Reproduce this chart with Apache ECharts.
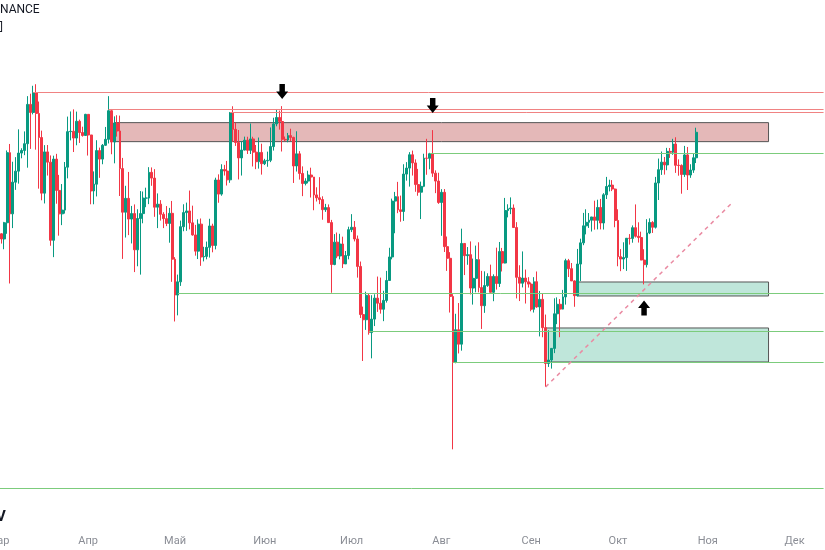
<!DOCTYPE html>
<html>
<head>
<meta charset="utf-8">
<script src="https://cdn.jsdelivr.net/npm/echarts@6/dist/echarts.min.js"></script>
<style>
html,body{margin:0;padding:0;background:#fff;}
#chart{width:825px;height:550px;}
</style>
</head>
<body>
<div id="chart"></div>
<script>
// Daily candles (prices in thousands USD), 2024-03-01 .. 2024-10-28
const startDate = '2024-03-01';
const totalDays = 286; // category slots up to 2024-12-11
const monthNames = ['Янв','Фев','Мар','Апр','Май','Июн','Июл','Авг','Сен','Окт','Ноя','Дек'];

const open = [
// Mar
61.13,62.39,62.03,63.17,68.33,63.80,66.11,66.93,68.30,68.50,69.02,72.13,71.48,73.08,71.40,69.50,65.30,68.39,67.61,61.94,67.84,65.50,63.80,64.07,67.23,69.96,69.99,69.46,70.78,69.89,69.66,
// Apr
71.33,69.70,65.46,65.96,68.49,67.84,68.90,69.36,71.62,69.15,70.64,70.01,67.12,63.92,64.92,63.43,63.82,61.28,63.47,63.82,64.94,64.94,66.84,66.41,64.28,64.50,63.77,63.46,63.12,63.84,
// May
60.64,58.25,59.12,62.89,63.89,64.01,63.16,62.31,61.19,63.07,60.79,60.83,61.45,62.94,61.58,66.27,65.23,67.05,66.94,66.28,71.45,70.14,69.12,67.93,68.53,69.29,68.51,69.39,68.37,67.64,68.35,
// Jun
67.49,67.71,67.75,68.80,70.57,71.08,70.76,69.36,69.31,69.65,69.51,67.32,68.24,66.76,66.01,66.19,66.64,66.49,65.17,64.96,64.83,64.10,64.25,63.18,60.28,61.81,60.86,61.68,60.32,60.89,
// Jul
62.68,62.85,62.03,60.15,56.99,56.66,58.23,55.85,56.70,58.05,57.72,57.33,57.90,59.21,60.79,64.72,65.04,64.09,63.97,66.71,67.16,68.17,67.55,65.93,65.37,65.80,67.91,67.90,68.25,66.78,66.19,
// Aug
64.62,65.36,61.50,60.70,58.16,54.02,56.03,55.13,61.72,60.88,60.95,58.71,59.35,60.61,58.74,57.56,58.87,59.48,58.43,59.48,59.01,61.16,60.38,64.04,64.16,64.22,62.83,59.42,59.03,59.37,59.12,
// Sep
58.97,57.33,59.13,57.48,57.97,56.16,53.95,54.16,54.87,57.04,57.65,57.34,58.13,60.54,60.00,59.18,58.21,60.31,61.76,62.95,63.20,63.35,63.58,63.34,64.26,63.15,65.18,65.79,65.89,65.60,
// Oct
63.33,60.81,60.65,60.75,62.08,62.07,62.82,62.22,62.13,60.58,60.27,62.45,63.19,62.85,66.05,67.04,67.61,67.40,68.43,68.36,69.00,67.37,67.36,66.68,68.16,66.64,67.01,67.94
];
const high = [
63.11,62.43,63.23,68.50,69.00,67.64,67.99,70.14,68.67,69.98,72.80,73.00,73.65,73.78,72.36,70.04,68.91,68.92,68.12,68.10,68.24,66.65,65.97,67.62,71.15,71.56,71.73,71.55,70.91,70.35,71.37,
71.34,69.71,66.91,69.29,68.72,69.00,70.33,72.80,71.76,71.17,71.26,71.23,67.93,65.84,66.87,64.37,64.48,64.13,65.45,65.42,65.70,67.23,67.21,67.08,65.28,64.79,63.92,64.36,64.23,64.73,
60.78,59.60,63.32,64.49,64.61,65.49,64.39,63.02,63.41,63.47,61.49,61.85,63.45,63.10,66.44,66.69,67.45,67.40,67.70,71.52,71.98,70.67,70.09,69.22,69.57,69.56,70.60,69.56,68.92,69.50,69.02,
67.86,68.41,70.29,71.06,71.76,71.63,71.99,69.58,69.86,70.19,69.56,69.99,68.45,67.29,66.40,66.96,67.19,66.49,65.73,66.48,65.07,64.52,64.48,63.37,62.37,62.48,62.39,62.19,61.20,62.89,
63.78,63.29,62.27,60.48,57.50,58.47,58.38,58.24,58.30,59.47,59.40,58.53,59.85,61.42,64.90,65.39,66.13,65.12,67.45,67.61,68.37,68.49,67.82,67.10,66.15,68.25,69.40,68.32,70.08,66.99,66.81,
65.59,65.60,62.20,61.12,58.31,57.04,57.73,62.75,61.75,61.47,61.86,60.68,61.57,61.80,59.85,59.82,59.69,60.27,59.62,61.43,61.82,61.41,64.95,64.49,64.99,64.48,63.21,60.23,61.17,59.94,59.43,
59.08,59.43,59.81,58.52,58.33,56.99,56.00,54.85,58.04,58.10,57.99,58.59,60.67,60.66,60.38,59.22,61.34,62.05,63.87,64.13,63.86,63.55,64.75,64.82,64.88,65.30,66.50,66.29,66.26,65.64,
64.13,61.33,61.80,61.48,62.37,62.98,64.48,63.20,62.54,61.32,63.42,63.48,63.28,66.50,67.88,68.42,68.00,68.70,68.69,69.40,69.52,67.82,67.44,68.85,68.77,67.45,68.26,70.27
];
const low = [
60.79,61.71,61.32,62.39,59.01,62.79,65.54,66.00,67.90,68.14,67.19,68.62,71.33,68.56,65.63,64.78,64.55,66.60,61.56,60.78,64.53,62.26,63.00,63.82,66.39,69.28,68.38,68.90,69.08,69.57,69.63,
68.11,64.49,64.49,65.06,66.43,67.45,68.85,69.04,68.21,67.52,69.57,65.09,60.66,62.13,62.30,61.72,59.77,60.16,59.60,63.13,64.28,64.50,65.84,63.59,62.79,63.32,62.79,62.93,61.77,59.12,
56.55,56.94,58.85,62.57,62.60,62.70,62.26,60.88,60.65,60.19,60.49,60.63,60.75,61.11,61.31,64.60,65.11,66.60,65.86,66.06,69.16,68.85,66.31,66.60,68.51,68.23,68.23,67.28,67.08,67.12,66.67,
67.39,67.26,67.61,68.49,70.38,70.12,68.42,69.21,69.13,69.23,66.05,66.90,66.30,65.08,65.87,66.02,64.98,64.06,64.69,64.50,63.38,63.94,63.18,58.40,60.23,60.71,60.63,60.04,60.32,60.63,
62.51,61.86,59.40,56.77,54.10,56.02,55.72,54.26,56.26,57.16,57.05,56.57,57.76,59.21,60.63,62.43,63.85,63.24,63.30,66.22,65.78,66.60,65.40,65.11,63.43,65.74,66.66,67.07,66.50,65.30,64.52,
62.25,61.13,59.85,57.12,49.00,53.96,54.56,54.73,59.57,60.26,58.29,57.63,58.43,58.43,56.08,57.10,58.79,58.42,57.85,58.61,58.78,59.81,60.35,63.55,63.78,62.80,58.03,57.86,58.75,57.70,58.74,
57.20,57.12,57.42,55.61,55.56,52.55,53.74,53.64,54.58,56.38,55.56,57.32,57.63,59.44,59.43,57.49,58.16,59.17,61.60,62.35,62.80,62.55,62.68,62.70,62.70,62.69,64.87,65.43,65.45,62.85,
60.16,59.83,59.97,59.85,61.64,61.77,62.13,61.78,60.57,58.95,60.08,62.37,62.45,62.76,64.80,66.65,66.67,67.00,67.93,68.17,66.80,66.59,65.26,66.50,65.53,66.43,66.80,67.54
];
const close = [
62.39,62.03,63.17,68.33,63.80,66.11,66.93,68.30,68.50,69.02,72.13,71.48,73.08,71.40,69.50,65.30,68.39,67.61,61.94,67.84,65.50,63.80,64.07,67.23,69.96,69.99,69.46,70.78,69.89,69.66,71.33,
69.70,65.46,65.96,68.49,67.84,68.90,69.36,71.62,69.15,70.64,70.01,67.12,63.92,64.92,63.43,63.82,61.28,63.47,63.82,64.94,64.94,66.84,66.41,64.28,64.50,63.77,63.46,63.12,63.84,60.64,
58.25,59.12,62.89,63.89,64.01,63.16,62.31,61.19,63.07,60.79,60.83,61.45,62.94,61.58,66.27,65.23,67.05,66.94,66.28,71.45,70.14,69.12,67.93,68.53,69.29,68.51,69.39,68.37,67.64,68.35,67.49,
67.71,67.75,68.80,70.57,71.08,70.76,69.36,69.31,69.65,69.51,67.32,68.24,66.76,66.01,66.19,66.64,66.49,65.17,64.96,64.83,64.10,64.25,63.18,60.28,61.81,60.86,61.68,60.32,60.89,62.68,
62.85,62.03,60.15,56.99,56.66,58.23,55.85,56.70,58.05,57.72,57.33,57.90,59.21,60.79,64.72,65.04,64.09,63.97,66.71,67.16,68.17,67.55,65.93,65.37,65.80,67.91,67.90,68.25,66.78,66.19,64.62,
65.36,61.50,60.70,58.16,54.02,56.03,55.13,61.72,60.88,60.95,58.71,59.35,60.61,58.74,57.56,58.87,59.48,58.43,59.48,59.01,61.16,60.38,64.04,64.16,64.22,62.83,59.42,59.03,59.37,59.12,58.97,
57.33,59.13,57.48,57.97,56.16,53.95,54.16,54.87,57.04,57.65,57.34,58.13,60.54,60.00,59.18,58.21,60.31,61.76,62.95,63.20,63.35,63.58,63.34,64.26,63.15,65.18,65.79,65.89,65.60,63.33,
60.81,60.65,60.75,62.08,62.07,62.82,62.22,62.13,60.58,60.27,62.45,63.19,62.85,66.05,67.04,67.61,67.40,68.43,68.36,69.00,67.37,67.36,66.68,68.16,66.64,67.01,67.94,69.91
];

// Annotation levels (price, start date)
const redLevels = [[73.14,'2024-03-13'],[71.72,'2024-04-08'],[71.48,'2024-05-20']];
const greenLevels = [[68.31,'2024-07-28'],[58.39,'2024-05-02'],[55.92,'2024-07-07'],[54.04,'2024-08-05'],[46.92,'2024-03-01']];
const supplyZones = [['2024-04-10','2024-11-22',70.67,69.18]];
const demandZones = [['2024-09-17','2024-11-22',59.11,58.19],['2024-09-06','2024-11-22',56.14,54.04]];
const trendLine = [['2024-09-06',52.55],['2024-11-09',64.51]];
const downArrows = [['2024-06-07',73.18],['2024-07-29',72.04]];
const upArrows = [['2024-10-10',57.41]];

// Build category dates
const dates = [];
const t0 = Date.parse(startDate + 'T00:00:00Z');
for (let i = 0; i < totalDays; i++) {
  dates.push(new Date(t0 + i * 86400000).toISOString().slice(0, 10));
}
const lastDate = dates[dates.length - 1];
const ohlc = open.map((o, i) => [o, close[i], low[i], high[i]]);

const markLineData = [];
redLevels.forEach(([p, d]) => markLineData.push([
  {coord: [d, p], lineStyle: {color: '#f08282', width: 1, type: 'solid'}},
  {coord: [lastDate, p]}
]));
greenLevels.forEach(([p, d]) => markLineData.push([
  {coord: [d, p], lineStyle: {color: '#7ccc7c', width: 1, type: 'solid'}},
  {coord: [lastDate, p]}
]));
markLineData.push([
  {coord: trendLine[0], lineStyle: {color: '#ea8aa2', width: 1.5, type: [4, 4]}},
  {coord: trendLine[1]}
]);

const markAreaData = [];
supplyZones.forEach(([a, b, top, bot]) => markAreaData.push([
  {coord: [a, top], itemStyle: {color: '#e4b8b8', borderColor: '#555555', borderWidth: 1}},
  {coord: [b, bot]}
]));
demandZones.forEach(([a, b, top, bot]) => markAreaData.push([
  {coord: [a, top], itemStyle: {color: '#bfe6da', borderColor: '#555555', borderWidth: 1}},
  {coord: [b, bot]}
]));

const downPath = 'path://M3,0L8,0L8,7L11,7L5.5,14L0,7L3,7Z';
const upPath = 'path://M5.5,0L11,7L8,7L8,14L3,14L3,7L0,7Z';
const markPointData = [];
downArrows.forEach(([d, p]) => markPointData.push({coord: [d, p], symbol: downPath, symbolSize: [12, 15]}));
upArrows.forEach(([d, p]) => markPointData.push({coord: [d, p], symbol: upPath, symbolSize: [12, 15]}));

const chart = echarts.init(document.getElementById('chart'), null, {renderer: 'canvas'});
chart.setOption({
  animation: false,
  backgroundColor: '#ffffff',
  grid: {left: -3, right: 0, top: 0, bottom: 20, containLabel: false, outerBoundsMode: 'none'},
  xAxis: {
    type: 'category',
    data: dates,
    boundaryGap: true,
    axisLine: {show: false},
    axisTick: {show: false},
    splitLine: {show: false},
    axisLabel: {
      interval: function (idx, val) { return val.slice(8, 10) === '01'; },
      formatter: function (val) {
        return val.slice(8, 10) === '01' ? monthNames[parseInt(val.slice(5, 7), 10) - 1] : '';
      },
      color: '#8a8d95',
      fontSize: 11,
      fontFamily: 'Roboto, sans-serif',
      margin: 6,
      hideOverlap: false
    }
  },
  yAxis: {
    type: 'log',
    logBase: 10,
    min: 44.763,
    max: 81.085,
    show: false,
    splitLine: {show: false}
  },
  series: [{
    type: 'candlestick',
    data: ohlc,
    barWidth: 2.4,
    clip: false,
    itemStyle: {
      color: '#089981',
      color0: '#f23645',
      borderColor: '#089981',
      borderColor0: '#f23645',
      borderWidth: 1
    },
    markArea: {silent: true, data: markAreaData},
    markLine: {silent: true, symbol: ['none', 'none'], label: {show: false}, data: markLineData},
    markPoint: {silent: true, label: {show: false}, itemStyle: {color: '#000000'}, data: markPointData}
  }],
  graphic: [
    {type: 'text', left: 0, top: 4, style: {text: 'NANCE', fontSize: 12, fontFamily: 'Roboto, sans-serif', fill: '#131722'}},
    {type: 'text', left: 0, top: 22, style: {text: ']', fontSize: 11, fontFamily: 'Roboto, sans-serif', fill: '#131722'}},
    {type: 'text', left: -4, top: 510, style: {text: 'V', fontSize: 15, fontWeight: 'bold', fontFamily: 'Roboto, sans-serif', fill: '#131722'}}
  ]
});
</script>
</body>
</html>
